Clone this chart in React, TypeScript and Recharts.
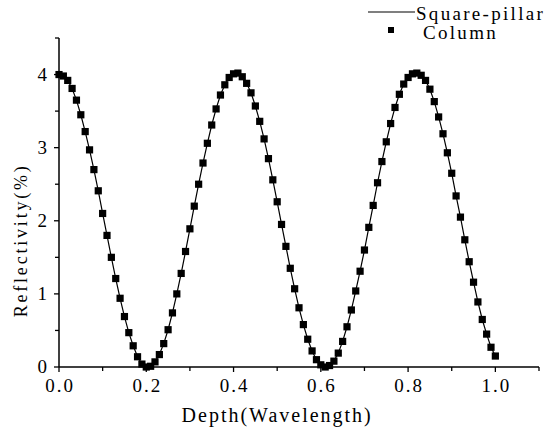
import React from 'react';
import { ComposedChart, Line, XAxis, YAxis, Label } from 'recharts';

const depth = [
  0.00, 0.01, 0.02, 0.03, 0.04, 0.05, 0.06, 0.07, 0.08, 0.09,
  0.10, 0.11, 0.12, 0.13, 0.14, 0.15, 0.16, 0.17, 0.18, 0.19,
  0.20, 0.21, 0.22, 0.23, 0.24, 0.25, 0.26, 0.27, 0.28, 0.29,
  0.30, 0.31, 0.32, 0.33, 0.34, 0.35, 0.36, 0.37, 0.38, 0.39,
  0.40, 0.41, 0.42, 0.43, 0.44, 0.45, 0.46, 0.47, 0.48, 0.49,
  0.50, 0.51, 0.52, 0.53, 0.54, 0.55, 0.56, 0.57, 0.58, 0.59,
  0.60, 0.61, 0.62, 0.63, 0.64, 0.65, 0.66, 0.67, 0.68, 0.69,
  0.70, 0.71, 0.72, 0.73, 0.74, 0.75, 0.76, 0.77, 0.78, 0.79,
  0.80, 0.81, 0.82, 0.83, 0.84, 0.85, 0.86, 0.87, 0.88, 0.89,
  0.90, 0.91, 0.92, 0.93, 0.94, 0.95, 0.96, 0.97, 0.98, 0.99,
  1.00,
];

const squarePillar = [
  4.00, 3.98, 3.92, 3.81, 3.65, 3.45, 3.22, 2.97, 2.70, 2.41,
  2.10, 1.80, 1.50, 1.21, 0.94, 0.69, 0.47, 0.29, 0.14, 0.04,
  0.00, 0.01, 0.07, 0.17, 0.32, 0.51, 0.74, 1.00, 1.28, 1.58,
  1.89, 2.20, 2.50, 2.79, 3.06, 3.31, 3.53, 3.72, 3.86, 3.96,
  4.01, 4.02, 3.97, 3.88, 3.75, 3.57, 3.36, 3.12, 2.85, 2.56,
  2.26, 1.95, 1.65, 1.35, 1.07, 0.81, 0.58, 0.38, 0.22, 0.10,
  0.03, 0.00, 0.02, 0.08, 0.19, 0.35, 0.55, 0.78, 1.04, 1.31,
  1.60, 1.91, 2.21, 2.52, 2.81, 3.08, 3.33, 3.55, 3.73, 3.87,
  3.96, 4.01, 4.02, 3.99, 3.92, 3.80, 3.63, 3.42, 3.19, 2.93,
  2.65, 2.34, 2.05, 1.74, 1.44, 1.16, 0.89, 0.65, 0.45, 0.27,
  0.15,
];

const column = [
  4.00, 3.98, 3.92, 3.81, 3.65, 3.45, 3.22, 2.97, 2.70, 2.41,
  2.10, 1.80, 1.50, 1.21, 0.94, 0.69, 0.47, 0.29, 0.14, 0.04,
  0.00, 0.01, 0.07, 0.17, 0.32, 0.51, 0.74, 1.00, 1.28, 1.58,
  1.89, 2.20, 2.50, 2.79, 3.06, 3.31, 3.53, 3.72, 3.86, 3.96,
  4.01, 4.02, 3.97, 3.88, 3.75, 3.57, 3.36, 3.12, 2.85, 2.56,
  2.26, 1.95, 1.65, 1.35, 1.07, 0.81, 0.58, 0.38, 0.22, 0.10,
  0.03, 0.00, 0.02, 0.08, 0.19, 0.35, 0.55, 0.78, 1.04, 1.31,
  1.60, 1.91, 2.21, 2.52, 2.81, 3.08, 3.33, 3.55, 3.73, 3.87,
  3.96, 4.01, 4.02, 3.99, 3.92, 3.80, 3.63, 3.42, 3.19, 2.93,
  2.65, 2.34, 2.05, 1.74, 1.44, 1.16, 0.89, 0.65, 0.45, 0.27,
  0.15,
];

const xTicks = [0, 0.1, 0.2, 0.3, 0.4, 0.5, 0.6, 0.7, 0.8, 0.9, 1.0, 1.1];
const xMajor = [0, 0.2, 0.4, 0.6, 0.8, 1.0];
const yTicks = [0, 0.5, 1, 1.5, 2, 2.5, 3, 3.5, 4, 4.5];
const yMajor = [0, 1, 2, 3, 4];

const seriesNames = ['Square-pillar', 'Column'];
const xTitle = 'Depth(Wavelength)';
const yTitle = 'Reflectivity(%)';

const data = depth.map((d, i) => ({ depth: d, pillar: squarePillar[i], column: column[i] }));

const FONT = "'Liberation Serif', 'Times New Roman', serif";
const textStyle = (size: number, ls: number) => ({
  fontFamily: FONT,
  fontSize: size,
  letterSpacing: ls,
  fill: '#000',
});

const isMajor = (list: number[], v: number) => list.some((m) => Math.abs(m - v) < 1e-6);

const XTick = (props: any) => {
  const { x, y, payload } = props;
  const v = payload.value;
  const major = isMajor(xMajor, v);
  return (
    <g>
      <line x1={x} y1={y} x2={x} y2={y + (major ? 5 : 4)} stroke="#000" strokeWidth={1.3} />
      {major && v < 1.05 && (
        <text x={x + 1} y={y + 25} textAnchor="middle" style={textStyle(19, 2)}>
          {v.toFixed(1)}
        </text>
      )}
    </g>
  );
};

const YTick = (props: any) => {
  const { x, y, payload } = props;
  const v = payload.value;
  const major = isMajor(yMajor, v);
  return (
    <g>
      <line x1={x} y1={y} x2={x - (major ? 5 : 4)} y2={y} stroke="#000" strokeWidth={1.3} />
      {major && (
        <text x={x - 12} y={y + 6} textAnchor="end" style={textStyle(19, 0)}>
          {String(v)}
        </text>
      )}
    </g>
  );
};

const SquareDot = (props: any) => {
  const { cx, cy, index } = props;
  if (cx == null || cy == null) return <g key={index} />;
  return <rect key={index} x={cx - 3.6} y={cy - 3.6} width={7.2} height={7.2} fill="#000" />;
};

const LegendBox = () => (
  <svg width={195} height={45} style={{ position: 'absolute', left: 360, top: 0 }}>
    <line x1={8} y1={12} x2={55} y2={12} stroke="#000" strokeWidth={1.2} />
    <text x={56} y={20} style={textStyle(19, 2.3)}>
      {seriesNames[0]}
    </text>
    <rect x={28} y={27} width={6} height={6} fill="#000" />
    <text x={63} y={39} style={textStyle(19, 2.3)}>
      {seriesNames[1]}
    </text>
  </svg>
);

export default function App() {
  return (
    <div style={{ position: 'absolute', left: 0, top: 0, width: 555, height: 429, background: '#fff' }}>
      <ComposedChart
        width={555}
        height={429}
        data={data}
        margin={{ top: 38, right: 16, left: 0, bottom: 0 }}
      >
        <XAxis
          type="number"
          dataKey="depth"
          domain={[0, 1.1]}
          ticks={xTicks}
          interval={0}
          tick={<XTick />}
          tickLine={false}
          tickSize={0}
          tickMargin={0}
          height={62}
          axisLine={{ stroke: '#000', strokeWidth: 1.5 }}
        >
          <Label
            content={(p: any) => {
              const vb = p.viewBox;
              return (
                <text
                  x={vb.x + vb.width * (0.5 / 1.1)}
                  y={vb.y + 55}
                  textAnchor="middle"
                  style={textStyle(20, 2)}
                >
                  {xTitle}
                </text>
              );
            }}
          />
        </XAxis>
        <YAxis
          type="number"
          domain={[0, 4.5]}
          ticks={yTicks}
          interval={0}
          tick={<YTick />}
          tickLine={false}
          tickSize={0}
          tickMargin={0}
          width={59}
          axisLine={{ stroke: '#000', strokeWidth: 1.5 }}
        >
          <Label
            content={(p: any) => {
              const vb = p.viewBox;
              const cx = 27;
              const cy = vb.y + vb.height * 0.615;
              return (
                <text
                  x={cx}
                  y={cy}
                  transform={`rotate(-90, ${cx}, ${cy})`}
                  textAnchor="middle"
                  style={textStyle(18, 2.8)}
                >
                  {yTitle}
                </text>
              );
            }}
          />
        </YAxis>
        <Line
          dataKey="pillar"
          name={seriesNames[0]}
          stroke="#000"
          strokeWidth={1.2}
          dot={false}
          type="linear"
          isAnimationActive={false}
        />
        <Line
          dataKey="column"
          name={seriesNames[1]}
          stroke="none"
          dot={<SquareDot />}
          activeDot={false}
          type="linear"
          isAnimationActive={false}
        />
      </ComposedChart>
      <LegendBox />
    </div>
  );
}
